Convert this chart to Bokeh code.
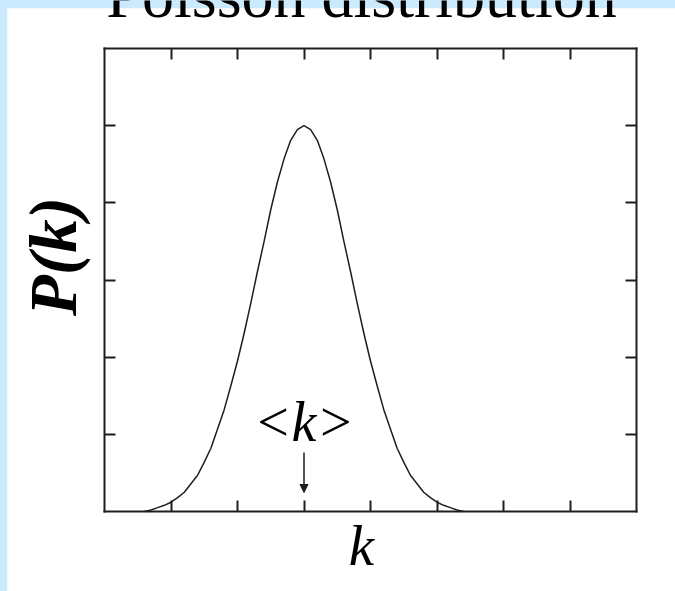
from math import pi
from bokeh.plotting import figure
from bokeh.models import (Range1d, LinearAxis, FixedTicker, Label, Arrow, NormalHead,
                          BoxAnnotation)
from bokeh.embed import file_html
from bokeh.resources import INLINE

# ---- data (arbitrary units) ----
k_values = [0.6, 0.7, 0.8, 0.9, 1.0, 1.1, 1.2, 1.3, 1.4, 1.5, 1.6, 1.7, 1.8, 1.9,
            2.0, 2.1, 2.2, 2.3, 2.4, 2.5, 2.6, 2.7, 2.8, 2.9, 3.0,
            3.1, 3.2, 3.3, 3.4, 3.5, 3.6, 3.7, 3.8, 3.9, 4.0, 4.1, 4.2, 4.3,
            4.4, 4.5, 4.6, 4.7, 4.8, 4.9, 5.0, 5.1, 5.2, 5.3, 5.4]
p_values = [0.0, 0.02, 0.05, 0.08, 0.12, 0.18, 0.25, 0.36, 0.47, 0.64, 0.82, 1.07, 1.32, 1.63,
            1.95, 2.31, 2.70, 3.11, 3.50, 3.91, 4.27, 4.57, 4.81, 4.95, 5.0,
            4.95, 4.81, 4.57, 4.27, 3.91, 3.50, 3.11, 2.70, 2.31, 1.95, 1.63, 1.32, 1.07,
            0.82, 0.64, 0.47, 0.36, 0.25, 0.18, 0.12, 0.08, 0.05, 0.02, 0.0]
mean_k = 3.0
x_ticks = [1, 2, 3, 4, 5, 6, 7]
y_ticks = [1, 2, 3, 4, 5]
title_text = "Poisson distribution"
x_label = "k"
y_label = "P(k)"
mean_label = "<k>"

# ---- layout ----
W, H = 675, 591
FL, FR, FT, FB = 104, 636, 48, 511      # box edges in page pixels
X0, X1, Y0, Y1 = 0, 8, 0, 6              # box extent in data units
INK = "#1e1e1e"
BLUE = "#cceafe"


def px2x(px):
    return X0 + (px - FL) * (X1 - X0) / (FR - FL)


def px2y(py):
    return Y0 + (FB - py) * (Y1 - Y0) / (FB - FT)


p = figure(width=W, height=H, output_backend="svg", toolbar_location=None,
           x_range=Range1d(px2x(0), px2x(W)),
           y_range=Range1d(px2y(H), px2y(0)),
           min_border=0, x_axis_location=None, y_axis_location=None)
p.background_fill_alpha = 0
p.border_fill_alpha = 0
p.outline_line_color = None
p.xgrid.visible = False
p.ygrid.visible = False
# page background under the canvas: white with light-blue strips on the left and top
p.styles = {"background": (f"linear-gradient(to right, {BLUE} 7px, rgba(0,0,0,0) 7px), "
                           f"linear-gradient(to bottom, {BLUE} 8px, #ffffff 8px)")}


def box_axis(side, ticks, loc, bounds):
    ax = LinearAxis(ticker=FixedTicker(ticks=ticks), fixed_location=loc, bounds=bounds)
    ax.major_tick_in = 11
    ax.major_tick_out = 0
    ax.minor_tick_in = 0
    ax.minor_tick_out = 0
    ax.major_tick_line_width = 2
    ax.major_tick_line_color = INK
    ax.minor_tick_line_color = None
    ax.axis_line_color = INK
    ax.axis_line_width = 2
    ax.axis_line_cap = "square"
    ax.major_label_overrides = {t: "" for t in ticks}
    ax.major_label_text_font_size = "1px"
    ax.major_label_standoff = 0
    p.add_layout(ax, side)


box_axis("below", x_ticks, Y0, (X0, X1))
box_axis("above", x_ticks, Y1, (X0, X1))
box_axis("left", y_ticks, X0, (Y0, Y1))
box_axis("right", y_ticks, X1, (Y0, Y1))

# light-blue page strips (left and top), drawn on the canvas below the texts
p.add_layout(BoxAnnotation(left=px2x(-5), right=px2x(7), bottom=px2y(H + 5), top=px2y(-5),
                           fill_color=BLUE, fill_alpha=1, line_color=None, level="underlay"))
p.add_layout(BoxAnnotation(left=px2x(-5), right=px2x(W + 5), bottom=px2y(8), top=px2y(-5),
                           fill_color=BLUE, fill_alpha=1, line_color=None, level="underlay"))
p.add_layout(BoxAnnotation(left=px2x(7), right=px2x(W + 5), bottom=px2y(H + 5), top=px2y(8),
                           fill_color="white", fill_alpha=1, line_color=None, level="underlay"))

# curve
p.line(k_values, p_values, line_color=INK, line_width=1.5, line_join="round")

# mean arrow
p.add_layout(Arrow(x_start=mean_k, y_start=px2y(452), x_end=mean_k, y_end=px2y(492),
                   line_color=INK, line_width=1.5,
                   end=NormalHead(size=8, fill_color=INK, line_color=INK)))

# texts
p.add_layout(Label(x=px2x(361), y=px2y(-5.5), text=title_text, text_align="center",
                   text_baseline="alphabetic", text_font="Liberation Serif",
                   text_font_size="64px", text_color="black", level="overlay"))
p.add_layout(Label(x=mean_k, y=px2y(421), text=mean_label, text_align="center",
                   text_baseline="alphabetic", text_font="Liberation Serif",
                   text_font_style="italic", text_font_size="56px", text_color="black"))
p.add_layout(Label(x=px2x(361), y=px2y(545), text=x_label, text_align="center",
                   text_baseline="alphabetic", text_font="Liberation Serif",
                   text_font_style="italic", text_font_size="57px", text_color="black"))
p.add_layout(Label(x=px2x(52), y=px2y(256), text=y_label, angle=pi / 2,
                   text_align="center", text_baseline="alphabetic",
                   text_font="Liberation Serif", text_font_style="bold italic",
                   text_font_size="67px", text_color="black"))

open("out.html", "w").write(file_html(p, INLINE))
